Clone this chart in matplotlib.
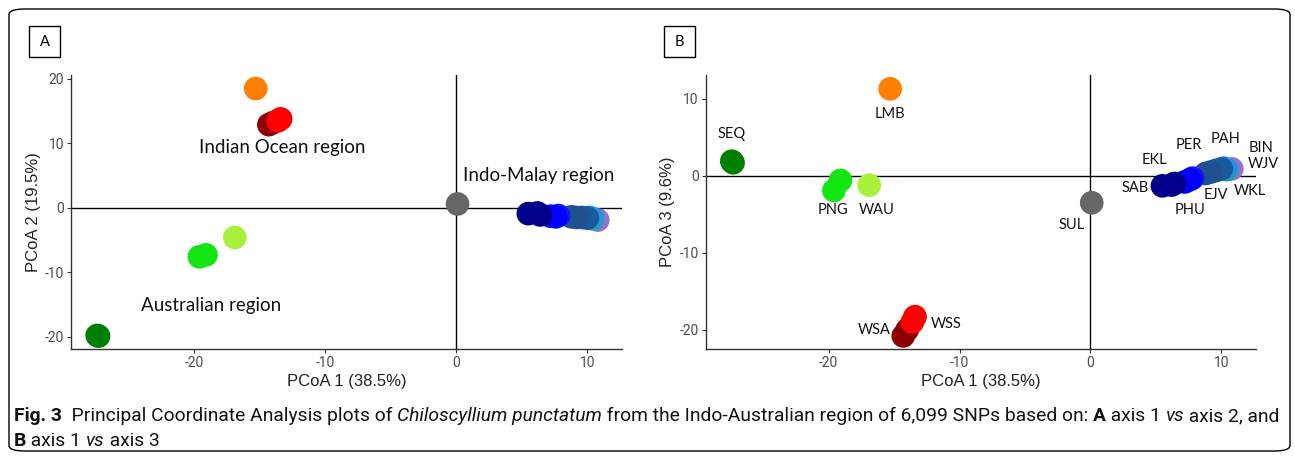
import matplotlib
matplotlib.use("Agg")
import matplotlib.pyplot as plt
from matplotlib.patches import FancyBboxPatch, Rectangle
from matplotlib import font_manager

plt.rcParams["axes.unicode_minus"] = False

# ---------------- data ----------------
pops = ["WKL", "WJV", "BIN", "PAH", "EJV", "PER", "PHU", "EKL", "SAB", "SUL",
        "WAU", "PNG", "SEQ", "LMB", "WSA", "WSS"]
pop_colors = ["#9370DB", "#1FA39A", "#1E90FF", "#1A5A9A", "#1F5090", "#1414FF",
              "#0000FF", "#000080", "#00008B", "#666666",
              "#A8F03A", "#14E614", "#007F00", "#FF7F00", "#8B0000", "#FF0000"]

# individuals: population, PCoA1, PCoA2, PCoA3
ind_pop = ["WKL", "WJV", "BIN", "PAH", "PAH", "EJV", "EJV", "PER", "PHU", "PHU",
           "EKL", "SAB", "SAB", "SUL", "WAU", "PNG", "PNG", "SEQ", "SEQ", "LMB",
           "WSA", "WSA", "WSS", "WSS"]
ind_pc1 = [10.8, 10.4, 10.2, 9.6, 10.0, 8.8, 9.2, 7.8, 7.2, 7.6,
           6.4, 5.5, 6.2, 0.1, -16.9, -19.6, -19.1, -27.4, -27.3, -15.3,
           -14.3, -14.0, -13.6, -13.4]
ind_pc2 = [-1.9, -1.7, -1.5, -1.5, -1.6, -1.4, -1.5, -1.2, -1.3, -1.4,
           -1.1, -0.9, -0.8, 0.6, -4.6, -7.6, -7.3, -19.8, -19.9, 18.5,
           12.9, 13.2, 13.5, 13.8]
ind_pc3 = [0.9, 0.8, 1.0, 0.7, 0.9, 0.3, 0.5, -0.3, -0.8, -0.5,
           -1.0, -1.3, -1.2, -3.5, -1.2, -1.9, -0.6, 1.9, 1.7, 11.3,
           -20.8, -20.0, -19.0, -18.3]

# panel A region annotations
region_names = ["Indian Ocean region", "Indo-Malay region", "Australian region"]
region_x = [-13.3, 6.3, -18.7]
region_y = [9.4, 5.0, -15.2]

# panel B population labels
lab_names = ["SEQ", "LMB", "PNG", "WAU", "SUL", "SAB", "EKL", "PER", "PHU",
             "EJV", "PAH", "BIN", "WJV", "WKL", "WSA", "WSS"]
lab_x = [-27.4, -15.3, -19.7, -16.3, -1.4, 3.4, 4.9, 7.5, 7.6,
         9.6, 10.3, 13.0, 13.2, 12.2, -16.5, -11.0]
lab_y = [5.4, 8.0, -4.5, -4.4, -6.4, -1.6, 2.0, 4.0, -4.4,
         -2.5, 4.8, 3.6, 1.5, -2.0, -20.0, -19.2]

xticks = [-20, -10, 0, 10]
yticks_a = [-20, -10, 0, 10, 20]
yticks_b = [-20, -10, 0, 10]
xlabel = "PCoA 1 (38.5%)"
ylabel_a = "PCoA 2 (19.5%)"
ylabel_b = "PCoA 3 (9.6%)"

# ---------------- figure ----------------
W, H = 1295, 459
fig = plt.figure(figsize=(W / 100, H / 100), dpi=100)

def fx(px):
    return px / W

def fy(py):
    return 1 - py / H

names = {f.name for f in font_manager.fontManager.ttflist}
narrow = "Liberation Sans Narrow" if "Liberation Sans Narrow" in names else "Roboto"
label_font = "Lato"

# outer rounded border
fig.patches.append(FancyBboxPatch((fx(9), fy(451)), fx(1281), 442 / H,
                                  boxstyle="round,pad=0,rounding_size=0.012",
                                  transform=fig.transFigure, fill=False,
                                  edgecolor="#000000", linewidth=1.0))

col_of = dict(zip(pops, pop_colors))

def panel(left_px, right_px, ylim, yvals, yticks, ylabel):
    ax = fig.add_axes([fx(left_px), fy(349), (right_px - left_px) / W, 274 / H])
    ax.set_xlim(-29.4, 12.65)
    ax.set_ylim(*ylim)
    for p in pops:
        xs = [x for x, q in zip(ind_pc1, ind_pop) if q == p]
        ys = [y for y, q in zip(yvals, ind_pop) if q == p]
        ax.scatter(xs, ys, s=290, color=col_of[p], edgecolors="none", zorder=3)
    ax.axhline(0, color="#000000", lw=1.0, zorder=2)
    ax.axvline(0, color="#000000", lw=1.0, zorder=2)
    for s in ["top", "right"]:
        ax.spines[s].set_visible(False)
    for s in ["left", "bottom"]:
        ax.spines[s].set_color("#333333")
        ax.spines[s].set_linewidth(1.0)
    ax.set_xticks(xticks)
    ax.set_yticks(yticks)
    ax.tick_params(length=3, width=0.8, color="#333333", labelcolor="#4d4d4d",
                   labelsize=10, pad=2)
    for t in ax.get_xticklabels() + ax.get_yticklabels():
        t.set_family([narrow, "DejaVu Sans"])
    ax.set_xlabel(xlabel, fontsize=12, color="#222222", labelpad=3,
                  family=["Liberation Sans", "DejaVu Sans"])
    ax.set_ylabel(ylabel, fontsize=12, color="#222222", labelpad=3,
                  family=["Liberation Sans", "DejaVu Sans"])
    ax.set_facecolor("none")
    return ax

axA = panel(71, 622, (-21.9, 20.6), ind_pc2, yticks_a, ylabel_a)
axB = panel(705.6, 1256, (-22.5, 13.1), ind_pc3, yticks_b, ylabel_b)

for name, x, y in zip(region_names, region_x, region_y):
    axA.text(x, y, name, ha="center", va="center", fontsize=13.5,
             family=[label_font, "DejaVu Sans"], color="#111111", zorder=5)

for name, x, y in zip(lab_names, lab_x, lab_y):
    axB.text(x, y, name, ha="center", va="center", fontsize=10.5,
             family=[label_font, "DejaVu Sans"], color="#111111", zorder=5)

# panel letter boxes
for letter, x0 in [("A", 29), ("B", 664)]:
    fig.patches.append(Rectangle((fx(x0), fy(57)), 31 / W, 31 / H,
                                 transform=fig.transFigure, fill=False,
                                 edgecolor="#000000", linewidth=1.0))
    fig.text(fx(x0 + 15.5), fy(41.5), letter, ha="center", va="center",
             fontsize=10.5, family=[label_font, "DejaVu Sans"])

# caption
fig.canvas.draw()
renderer = fig.canvas.get_renderer()

def caption_line(pieces, x_px, y_px, size=13.9):
    x = x_px
    for txt, weight, style in pieces:
        t = fig.text(fx(x), fy(y_px), txt, ha="left", va="baseline",
                     fontsize=size, weight=weight, style=style,
                     family=[narrow, "DejaVu Sans"], color="#111111")
        bb = t.get_window_extent(renderer)
        x += bb.width

caption_line([("Fig. 3", "bold", "normal"),
              ("  Principal Coordinate Analysis plots of ", "normal", "normal"),
              ("Chiloscyllium punctatum", "normal", "italic"),
              (" from the Indo-Australian region of 6,099 SNPs based on: ", "normal", "normal"),
              ("A", "bold", "normal"),
              (" axis 1 ", "normal", "normal"),
              ("vs", "normal", "italic"),
              (" axis 2, and", "normal", "normal")], 14, 421)
caption_line([("B", "bold", "normal"),
              (" axis 1 ", "normal", "normal"),
              ("vs", "normal", "italic"),
              (" axis 3", "normal", "normal")], 14, 446)

fig.savefig("out.png", dpi=100)
